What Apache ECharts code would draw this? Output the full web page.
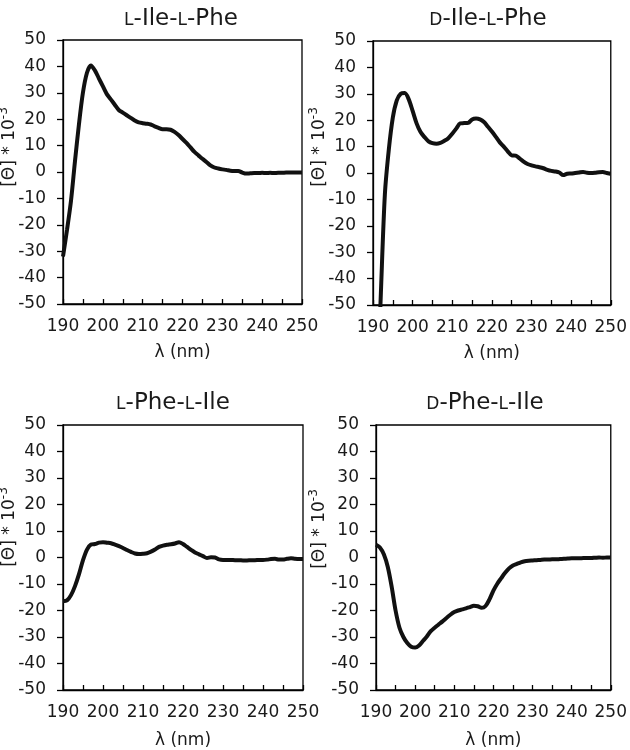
<!DOCTYPE html>
<html><head><meta charset="utf-8">
<script src="https://cdn.jsdelivr.net/npm/echarts@6/dist/echarts.min.js"></script>
<style>html,body{margin:0;padding:0;background:#fff}#main{width:630px;height:750px}</style>
</head><body><div id="main"></div>
<script>
const wavelengths = [190,191,192,193,194,195,196,197,198,199,200,201,202,203,204,205,206,207,208,209,210,211,212,213,214,215,216,217,218,219,220,221,222,223,224,225,226,227,228,229,230,231,232,233,234,235,236,237,238,239,240,241,242,243,244,245,246,247,248,249,250];
const xTickLabels = [190,200,210,220,230,240,250];
const yTickLabels = [-50,-40,-30,-20,-10,0,10,20,30,40,50];
const panelTitles = ['{sc|L}-Ile-{sc|L}-Phe','{sc|D}-Ile-{sc|L}-Phe','{sc|L}-Phe-{sc|L}-Ile','{sc|D}-Phe-{sc|L}-Ile'];
const xName = 'λ (nm)';
const yName = '[Θ] * 10{sup|-3}';
const lIleLPhe = [-32,-22,-11,4,18,30,37.5,40.3,38.5,35.5,32.5,29.5,27.5,25.5,23.5,22.5,21.5,20.5,19.5,18.8,18.5,18.3,18,17.3,16.7,16.2,16.2,16,15.2,14,12.5,11,9.3,7.6,6.3,5,3.8,2.5,1.7,1.3,1.0,0.8,0.5,0.4,0.4,-0.2,-0.6,-0.5,-0.4,-0.4,-0.3,-0.4,-0.3,-0.4,-0.3,-0.3,-0.2,-0.2,-0.2,-0.2,-0.2];
const dIleLPhe = [-120,-85,-45,-8,9,21,27.5,30,30.3,28,23.5,18.8,15.5,13.6,12,11.3,11.1,11.4,12.2,13.2,14.9,16.8,18.8,18.9,19,20.3,20.6,20.3,19.3,17.5,15.7,13.7,11.6,10,8.2,6.7,6.6,5.5,4.3,3.4,2.9,2.5,2.2,1.8,1.2,0.8,0.6,0.2,-0.8,-0.3,-0.2,0,0.2,0.4,0.1,0,0.1,0.3,0.4,0,-0.3];
const lPheLIle = [-16.5,-16.2,-14.2,-10.8,-6.3,-1,3,4.9,5.1,5.6,5.8,5.6,5.4,4.9,4.3,3.6,2.8,2.1,1.5,1.3,1.4,1.6,2.2,3,4,4.5,4.8,5,5.3,5.8,5.1,4,2.9,1.9,1.2,0.5,-0.2,0.1,0,-0.7,-0.9,-0.9,-0.9,-1,-1,-1.1,-1.1,-1,-1,-0.9,-0.9,-0.8,-0.6,-0.5,-0.8,-0.8,-0.5,-0.3,-0.5,-0.6,-0.6];
const dPheLIle = [4.8,3.8,1.2,-3.5,-11,-20,-26.5,-30,-32.3,-33.7,-34,-33.2,-31.5,-29.8,-27.8,-26.5,-25.3,-24.1,-22.8,-21.6,-20.6,-20,-19.6,-19.2,-18.7,-18.2,-18.4,-19,-18.3,-15.8,-12.5,-9.9,-7.8,-5.8,-4.1,-3,-2.4,-1.8,-1.4,-1.2,-1.1,-1,-0.9,-0.8,-0.8,-0.7,-0.7,-0.6,-0.5,-0.4,-0.3,-0.3,-0.3,-0.2,-0.2,-0.2,-0.1,0,-0.1,0,0];
const seriesValues = [lIleLPhe, dIleLPhe, lPheLIle, dPheLIle];

const FONT = '"DejaVu Sans", "Liberation Sans", Arial, sans-serif';
const TXT = '#1a1a1a';
const grids = [
  {left: 63, top: 40, width: 239, height: 264},
  {left: 373, top: 41, width: 240, height: 264},
  {left: 63, top: 425, width: 240, height: 266},
  {left: 376, top: 425, width: 239, height: 266}
];
const titlePos = [[181, 19], [488, 19], [173, 403], [485, 403]];
const yNamePos = [[10, 147], [320, 147], [10, 527], [320, 529]];

const option = {
  animation: false,
  backgroundColor: '#fff',
  grid: grids.map(g => Object.assign({show: true, borderColor: '#000', borderWidth: 1.3, backgroundColor: 'transparent'}, g)),
  xAxis: grids.map((g, i) => ({
    type: 'value', gridIndex: i, min: xTickLabels[0], max: xTickLabels[xTickLabels.length - 1], interval: 10,
    axisLine: {show: true, onZero: false, lineStyle: {color: '#000', width: 1.3}},
    axisTick: {show: true, inside: true, length: 5, lineStyle: {color: '#000', width: 1.3}},
    minorTick: {show: true, splitNumber: 2, length: 5, lineStyle: {color: '#000', width: 1.3}},
    splitLine: {show: false},
    axisLabel: {fontSize: 17, color: TXT, fontFamily: FONT, margin: 14},
    name: xName, nameLocation: 'middle', nameGap: i < 2 ? 40 : 42,
    nameTextStyle: {fontSize: 17, color: TXT, fontFamily: FONT}
  })),
  yAxis: grids.map((g, i) => ({
    type: 'value', gridIndex: i, min: yTickLabels[0], max: yTickLabels[yTickLabels.length - 1], interval: 10,
    axisLine: {show: true, onZero: false, lineStyle: {color: '#000', width: 1.3}},
    axisTick: {show: true, inside: false, length: 6, lineStyle: {color: '#000', width: 1.3}},
    splitLine: {show: false},
    axisLabel: {fontSize: 17, color: TXT, fontFamily: FONT, margin: 17}
  })),
  series: seriesValues.map((vals, i) => ({
    type: 'line', xAxisIndex: i, yAxisIndex: i,
    data: wavelengths.map((w, k) => [w, vals[k]]),
    showSymbol: false, symbol: 'none', smooth: 0.3, clip: true,
    lineStyle: {color: '#111', width: 4}
  })),
  graphic: [
    ...panelTitles.map((t, i) => ({
      type: 'text', x: titlePos[i][0], y: titlePos[i][1],
      style: {
        text: t, fill: TXT, fontSize: 23, fontFamily: FONT, align: 'center', verticalAlign: 'middle',
        rich: {sc: {fontSize: 17, fontFamily: FONT, fill: TXT, color: TXT, verticalAlign: 'middle', padding: [4, 0, 0, 0]}}
      }
    })),
    ...yNamePos.map((p, i) => ({
      type: 'text', x: p[0], y: p[1], rotation: Math.PI / 2,
      style: {
        text: yName, fill: TXT, fontSize: 17, fontFamily: FONT, align: 'center', verticalAlign: 'middle',
        rich: {sup: {fontSize: 12, fontFamily: FONT, fill: TXT, color: TXT, padding: [0, 0, 12, 0]}}
      }
    }))
  ]
};
const chart = echarts.init(document.getElementById('main'), null, {renderer: 'canvas'});
chart.setOption(option);
</script>
</body></html>
